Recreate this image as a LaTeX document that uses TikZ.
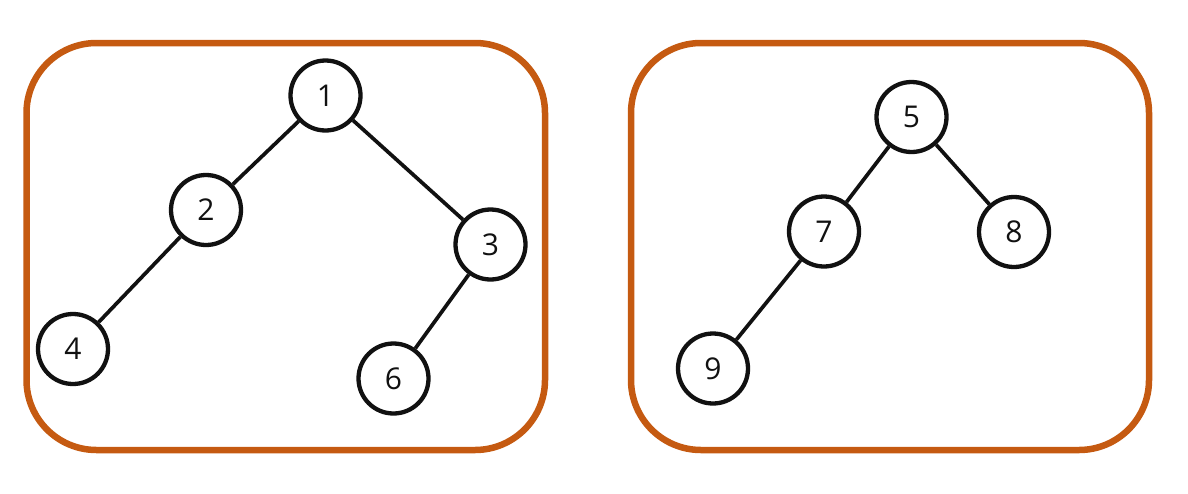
\documentclass[tikz,border=0pt]{standalone}
\usepackage{fontspec}
\setmainfont{Open Sans}
\definecolor{boxorange}{HTML}{C55A11}
\definecolor{ink}{HTML}{111111}
\begin{document}
\begin{tikzpicture}[x=1pt,y=-1pt,
  tnode/.style={circle,draw=ink,line width=4.3pt,fill=white,minimum size=70pt,inner sep=0pt,font=\fontsize{30}{32}\selectfont,text=ink},
  frame/.style={draw=boxorange,line width=6.5pt,rounded corners=70pt},
  edge/.style={draw=ink,line width=3.7pt}]
\useasboundingbox (0,0) rectangle (1188,493);
\draw[frame] (26.5,43) rectangle (545,450);
\draw[frame] (631,43) rectangle (1149,450);
\node[tnode] (n1) at (325.5,95.5) {1};
\node[tnode] (n2) at (206,210) {2};
\node[tnode] (n3) at (490.5,244.5) {3};
\node[tnode] (n4) at (73,349) {4};
\node[tnode] (n6) at (393.5,378.5) {6};
\node[tnode] (n5) at (911.5,117) {5};
\node[tnode] (n7) at (824,231.5) {7};
\node[tnode] (n8) at (1014,232) {8};
\node[tnode] (n9) at (713,368.5) {9};
\draw[edge] (n1) -- (n2);
\draw[edge] (n1) -- (n3);
\draw[edge] (n2) -- (n4);
\draw[edge] (n3) -- (n6);
\draw[edge] (n5) -- (n7);
\draw[edge] (n5) -- (n8);
\draw[edge] (n7) -- (n9);
\end{tikzpicture}
\end{document}
